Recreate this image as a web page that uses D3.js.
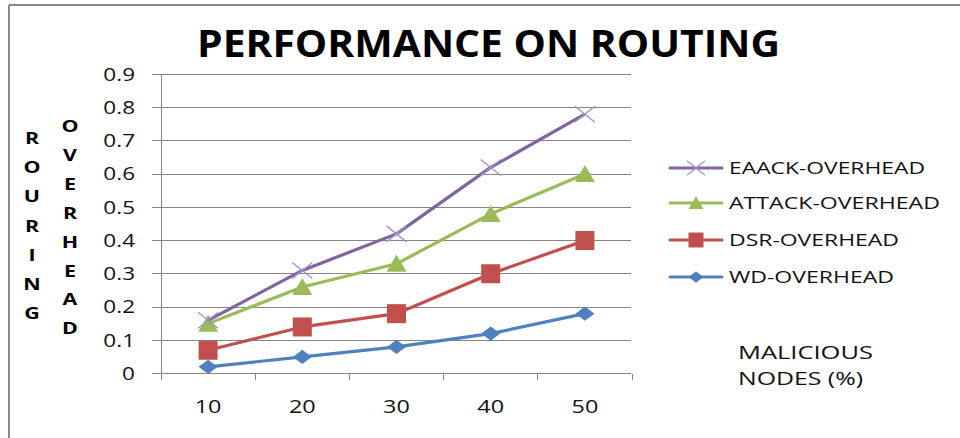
<!DOCTYPE html>
<html><head><meta charset="utf-8">
<script src="https://cdn.jsdelivr.net/npm/d3@7"></script>
<style>html,body{margin:0;padding:0;background:#fff;}svg{display:block;}</style>
</head><body>
<svg id="c" width="960" height="438"></svg>
<script>
const categories = ["10","20","30","40","50"];
const yTicks = [0,0.1,0.2,0.3,0.4,0.5,0.6,0.7,0.8,0.9];
const yTickLabels = ["0","0.1","0.2","0.3","0.4","0.5","0.6","0.7","0.8","0.9"];
const wdOverhead = [0.02,0.05,0.08,0.12,0.18];
const dsrOverhead = [0.07,0.14,0.18,0.30,0.40];
const attackOverhead = [0.15,0.26,0.33,0.48,0.60];
const eaackOverhead = [0.16,0.31,0.42,0.62,0.78];
const seriesNames = ["WD-OVERHEAD","DSR-OVERHEAD","ATTACK-OVERHEAD","EAACK-OVERHEAD"];
const title = "PERFORMANCE ON ROUTING";
const yLabel1 = "ROURING";
const yLabel2 = "OVERHEAD";
const xLabel = ["MALICIOUS","NODES (%)"];

const series = [
  {name: seriesNames[0], values: wdOverhead, color:"#4F81BD", marker:"diamond"},
  {name: seriesNames[1], values: dsrOverhead, color:"#C0504D", marker:"square"},
  {name: seriesNames[2], values: attackOverhead, color:"#9BBB59", marker:"triangle"},
  {name: seriesNames[3], values: eaackOverhead, color:"#8064A2", marker:"cross"}
];

const svg = d3.select("#c");
const FONT = "'Open Sans', sans-serif";
const AX = "#868686";

function toWidth(sel, target){
  sel.attr("textLength", target).attr("lengthAdjust","spacingAndGlyphs");
}
function stretch(sel, k){
  sel.each(function(){
    const w = this.getComputedTextLength();
    d3.select(this).attr("textLength", w*k).attr("lengthAdjust","spacingAndGlyphs");
  });
}

svg.append("line").attr("x1",9).attr("x2",960).attr("y1",5).attr("y2",5).attr("stroke","#8a8a8a").attr("stroke-width",2);
svg.append("line").attr("x1",9).attr("x2",9).attr("y1",5).attr("y2",438).attr("stroke","#8a8a8a").attr("stroke-width",2);

const x = d3.scaleBand().domain(categories).range([161,632]).padding(0);
const y = d3.scaleLinear().domain([0,0.9]).range([373.5,74.3]);

const g = svg.append("g");
g.selectAll("line.grid").data(yTicks).join("line")
  .attr("x1",152).attr("x2",631).attr("y1",d=>y(d)).attr("y2",d=>y(d))
  .attr("stroke",AX).attr("stroke-width",1).attr("shape-rendering","crispEdges");
g.append("line").attr("x1",161).attr("x2",161).attr("y1",y(0.9)).attr("y2",380)
  .attr("stroke",AX).attr("stroke-width",1).attr("shape-rendering","crispEdges");
const bounds = categories.map(c=>x(c)).concat([x(categories[categories.length-1])+x.bandwidth()]);
g.selectAll("line.xt").data(bounds).join("line")
  .attr("x1",d=>d).attr("x2",d=>d).attr("y1",y(0)).attr("y2",380)
  .attr("stroke",AX).attr("stroke-width",1).attr("shape-rendering","crispEdges");

const yl = g.selectAll("text.yl").data(yTicks).join("text")
  .attr("x",135).attr("y",d=>y(d)+6.3).attr("text-anchor","end")
  .attr("font-family",FONT).attr("font-size",18).attr("fill","#111")
  .text((d,i)=>yTickLabels[i]);
stretch(yl, 1.25);
const xl = g.selectAll("text.xl").data(categories).join("text")
  .attr("x",d=>x(d)+x.bandwidth()/2).attr("y",413).attr("text-anchor","middle")
  .attr("font-family",FONT).attr("font-size",18).attr("fill","#111")
  .text(d=>d);
stretch(xl, 1.3);

const t = svg.append("text").attr("x",488.5).attr("y",57).attr("text-anchor","middle")
  .attr("font-family",FONT).attr("font-weight","bold").attr("font-size",38).attr("fill","#000").text(title);
toWidth(t, 583);

yLabel1.split("").forEach((ch,i)=>{
  const tt = svg.append("text").attr("x",32).attr("y",144+i*29.2).attr("text-anchor","middle")
    .attr("font-family",FONT).attr("font-weight","bold").attr("font-size",16.5).attr("fill","#000").text(ch);
  stretch(tt, 1.3);
});
yLabel2.split("").forEach((ch,i)=>{
  const tt = svg.append("text").attr("x",70).attr("y",132+i*28.9).attr("text-anchor","middle")
    .attr("font-family",FONT).attr("font-weight","bold").attr("font-size",16.5).attr("fill","#000").text(ch);
  stretch(tt, 1.3);
});

xLabel.forEach((s,i)=>{
  const tt = svg.append("text").attr("x",738).attr("y",359+i*26).attr("font-family",FONT)
    .attr("font-size",19).attr("fill","#111").text(s);
  toWidth(tt, i===0?135:125);
});

function markerPath(type, s){
  const h = s/2;
  if(type==="diamond") return `M0,${-h*0.75}L${h},0L0,${h*0.75}L${-h},0Z`;
  if(type==="square") return `M${-h},${-h}H${h}V${h}H${-h}Z`;
  if(type==="triangle") return `M0,${-h*0.9}L${h},${h*0.8}L${-h},${h*0.8}Z`;
  if(type==="cross") return `M${-h},${-h*0.8}L${h},${h*0.8}M${h},${-h*0.8}L${-h},${h*0.8}`;
}
function drawMarker(sel, type, color, s){
  if(type==="cross"){
    sel.append("path").attr("d",markerPath(type,s)).attr("fill","none").attr("stroke","#a692c6").attr("stroke-width",1.3);
  } else {
    sel.append("path").attr("d",markerPath(type,s)).attr("fill",color);
  }
}

const line = d3.line().x((d,i)=>x(categories[i])+x.bandwidth()/2).y(d=>y(d));
const sizes = {diamond:19, square:19, triangle:20, cross:20};
series.forEach(sr=>{
  const sg = svg.append("g");
  sg.append("path").attr("d",line(sr.values)).attr("fill","none").attr("stroke",sr.color).attr("stroke-width",3.2).attr("stroke-linejoin","round");
  sr.values.forEach((v,i)=>{
    const m = sg.append("g").attr("transform",`translate(${x(categories[i])+x.bandwidth()/2},${y(v)})`);
    drawMarker(m, sr.marker, sr.color, sizes[sr.marker]);
  });
});

const legendY = [168,203,240,277];
const legendWidths = [196,211,170,165];
series.slice().reverse().forEach((sr,i)=>{
  const lg = svg.append("g").attr("transform",`translate(0,${legendY[i]})`);
  lg.append("line").attr("x1",670).attr("x2",722).attr("y1",0).attr("y2",0).attr("stroke",sr.color).attr("stroke-width",3).attr("stroke-linecap","round");
  const m = lg.append("g").attr("transform","translate(696,0)");
  drawMarker(m, sr.marker, sr.color, sr.marker==="cross"?18:15);
  const tt = lg.append("text").attr("x",729).attr("y",6).attr("font-family",FONT).attr("font-size",16).attr("fill","#111").text(sr.name);
  toWidth(tt, legendWidths[i]);
});
</script>
</body></html>
